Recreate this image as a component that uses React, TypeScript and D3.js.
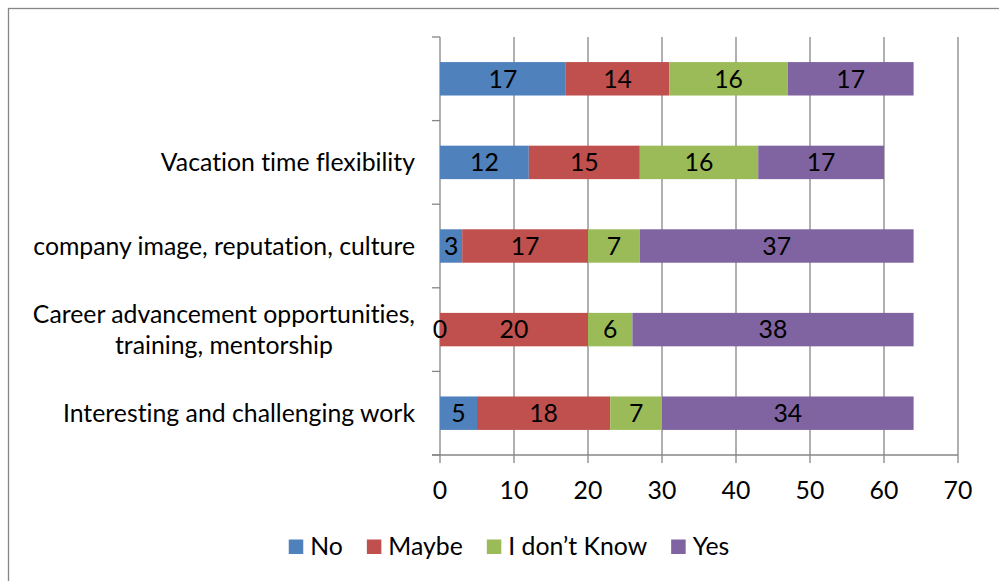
import React, { useEffect, useRef } from "react";
import * as d3 from "d3";

const categories = [
  "Interesting and challenging work",
  "Career advancement opportunities,|training, mentorship",
  "company image, reputation, culture",
  "Vacation time flexibility",
  "",
];
const seriesNames = ["No", "Maybe", "I don\u2019t Know", "Yes"];
const seriesColors = ["#4F81BD", "#C0504D", "#9BBB59", "#8064A2"];
const noValues = [5, 0, 3, 12, 17];
const maybeValues = [18, 20, 17, 15, 14];
const dontKnowValues = [7, 6, 7, 16, 16];
const yesValues = [34, 38, 37, 17, 17];
const xTicks = [0, 10, 20, 30, 40, 50, 60, 70];

const FONT = "Lato, 'Open Sans', sans-serif";
const FS = 24.8;
const BO = 8.8; // baseline offset from visual center

export default function App() {
  const ref = useRef<SVGSVGElement>(null);
  useEffect(() => {
    const svg = d3.select(ref.current);
    svg.selectAll("*").remove();
    const W = 999, H = 581;
    const left = 440, right = 958, top = 37, bottom = 455;
    const grid = "#868686";

    svg.append("rect").attr("x", 0).attr("y", 0).attr("width", W).attr("height", H).attr("fill", "#fff");
    svg.append("rect").attr("x", 8.5).attr("y", 8.5).attr("width", 1010).attr("height", 600)
      .attr("fill", "none").attr("stroke", grid).attr("stroke-width", 1.3);

    const x = d3.scaleLinear().domain([0, 70]).range([left, right]);
    const y = d3.scaleBand<string>().domain(categories).range([bottom, top]).paddingInner(0.6).paddingOuter(0.3);

    const series = [noValues, maybeValues, dontKnowValues, yesValues];
    const table = categories.map((c, i) => {
      const o: any = { cat: c };
      seriesNames.forEach((s, j) => (o[s] = series[j][i]));
      return o;
    });
    const stacked = d3.stack<any>().keys(seriesNames)(table);

    const g = svg.append("g");
    xTicks.forEach((t) => {
      if (t === 0) return;
      g.append("line").attr("x1", x(t)).attr("x2", x(t)).attr("y1", top).attr("y2", bottom + 8)
        .attr("stroke", grid).attr("stroke-width", 1.3);
    });
    g.append("line").attr("x1", left).attr("x2", left).attr("y1", top).attr("y2", bottom + 8)
      .attr("stroke", grid).attr("stroke-width", 1.3);
    const yTickPos = d3.range(categories.length + 1).map((k) => top + (bottom - top) * k / categories.length);
    yTickPos.forEach((p) => {
      g.append("line").attr("x1", left - 8).attr("x2", left).attr("y1", p).attr("y2", p)
        .attr("stroke", grid).attr("stroke-width", 1.3);
    });
    g.append("line").attr("x1", left - 8).attr("x2", right).attr("y1", bottom).attr("y2", bottom)
      .attr("stroke", grid).attr("stroke-width", 1.3);

    stacked.forEach((s, j) => {
      g.selectAll(null).data(s).enter().append("rect")
        .attr("x", (d: any) => x(d[0]))
        .attr("width", (d: any) => x(d[1]) - x(d[0]))
        .attr("y", (d: any) => y(d.data.cat)!)
        .attr("height", y.bandwidth())
        .attr("fill", seriesColors[j]);
    });
    stacked.forEach((s) => {
      g.selectAll(null).data(s).enter().append("text")
        .attr("x", (d: any) => (x(d[0]) + x(d[1])) / 2)
        .attr("y", (d: any) => y(d.data.cat)! + y.bandwidth() / 2 + BO)
        .attr("text-anchor", "middle")
        .attr("font-family", FONT).attr("font-size", FS).attr("fill", "#000")
        .text((d: any) => String(d[1] - d[0]));
    });

    xTicks.forEach((t) => {
      g.append("text").attr("x", x(t)).attr("y", 490 + BO).attr("text-anchor", "middle")
        .attr("font-family", FONT).attr("font-size", FS).attr("fill", "#000").text(String(t));
    });

    categories.forEach((c) => {
      if (!c) return;
      const cy = y(c)! + y.bandwidth() / 2;
      const lines = c.split("|");
      if (lines.length === 1) {
        g.append("text").attr("x", 415).attr("y", cy + BO).attr("text-anchor", "end")
          .attr("font-family", FONT).attr("font-size", FS).attr("fill", "#000").text(c);
      } else {
        const t1 = g.append("text").attr("x", 415).attr("y", cy - 15.4 + BO).attr("text-anchor", "end")
          .attr("font-family", FONT).attr("font-size", FS).attr("fill", "#000").text(lines[0]);
        const w = (t1.node() as SVGTextElement).getComputedTextLength();
        g.append("text").attr("x", 415 - w / 2).attr("y", cy + 15.4 + BO).attr("text-anchor", "middle")
          .attr("font-family", FONT).attr("font-size", FS).attr("fill", "#000").text(lines[1]);
      }
    });

    const lg = svg.append("g");
    const sq = 14.5, gapSq = 7, gapItem = 24;
    let cx = 0;
    seriesNames.forEach((n, j) => {
      const t = lg.append("text").attr("y", 546 + BO).attr("font-family", FONT).attr("font-size", FS)
        .attr("fill", "#000").text(n);
      const w = (t.node() as SVGTextElement).getComputedTextLength();
      lg.append("rect").attr("x", cx).attr("y", 539.5).attr("width", sq).attr("height", sq).attr("fill", seriesColors[j]);
      t.attr("x", cx + sq + gapSq);
      cx += sq + gapSq + w + gapItem;
    });
    const total = cx - gapItem;
    lg.attr("transform", `translate(${509 - total / 2},0)`);
  }, []);
  return (
    <svg ref={ref} width={999} height={581}
      style={{ position: "absolute", left: 0, top: 0, display: "block", fontVariantLigatures: "none" }} />
  );
}
